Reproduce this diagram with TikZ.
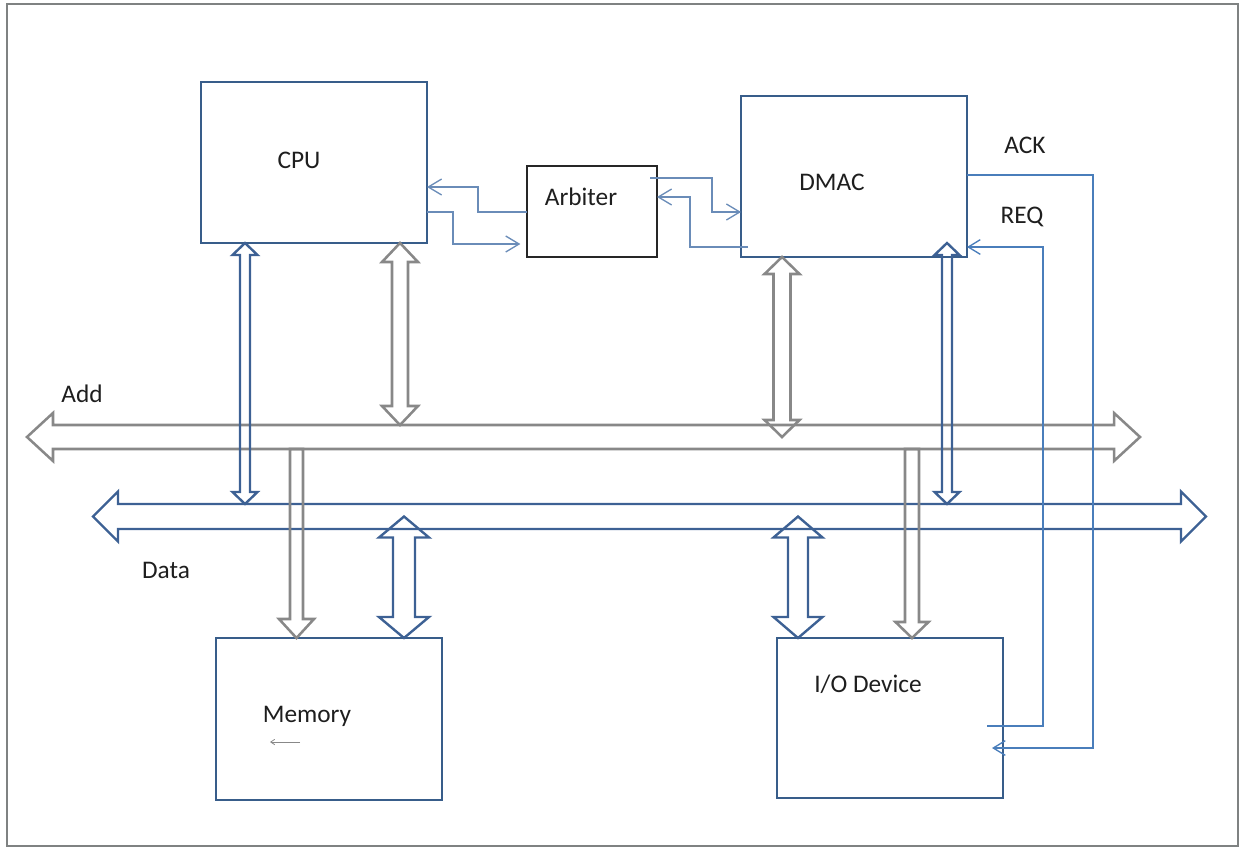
\documentclass[tikz,border=0pt]{standalone}
\usepackage{fontspec}
\setmainfont{Carlito}
\usetikzlibrary{calc,arrows.meta}
\definecolor{boxblue}{HTML}{385D8A}
\definecolor{arrblue}{HTML}{3D6194}
\definecolor{arrgray}{HTML}{888888}
\definecolor{connblue}{HTML}{4A7EBB}
\definecolor{arbconn}{HTML}{6A8CB8}
\definecolor{framegray}{HTML}{7F8282}
\definecolor{txt}{HTML}{1E1E1E}
\def\pxu{0.75pt}
% vertical double block arrow: style, top tip, bottom tip, shaft half, head half, head length (px)
\newcommand\vdouble[6]{\draw[#1] let \p1=#2, \p2=#3 in
  (\x1,\y1) -- (\x1+#5*\pxu,\y1-#6*\pxu) -- (\x1+#4*\pxu,\y1-#6*\pxu) -- (\x1+#4*\pxu,\y2+#6*\pxu)
  -- (\x1+#5*\pxu,\y2+#6*\pxu) -- (\x1,\y2) -- (\x1-#5*\pxu,\y2+#6*\pxu) -- (\x1-#4*\pxu,\y2+#6*\pxu)
  -- (\x1-#4*\pxu,\y1-#6*\pxu) -- (\x1-#5*\pxu,\y1-#6*\pxu) -- cycle;}
% horizontal double block arrow: style, left tip, right tip, shaft half, head half, head length
\newcommand\hdouble[6]{\draw[#1] let \p1=#2, \p2=#3 in
  (\x1,\y1) -- (\x1+#6*\pxu,\y1+#5*\pxu) -- (\x1+#6*\pxu,\y1+#4*\pxu) -- (\x2-#6*\pxu,\y1+#4*\pxu)
  -- (\x2-#6*\pxu,\y1+#5*\pxu) -- (\x2,\y1) -- (\x2-#6*\pxu,\y1-#5*\pxu) -- (\x2-#6*\pxu,\y1-#4*\pxu)
  -- (\x1+#6*\pxu,\y1-#4*\pxu) -- (\x1+#6*\pxu,\y1-#5*\pxu) -- cycle;}
% vertical single block arrow pointing down: style, flat top centre, tip, shaft half, head half, head length
\newcommand\vsingle[6]{\draw[#1] let \p1=#2, \p2=#3 in
  (\x1-#4*\pxu,\y1) -- (\x1-#4*\pxu,\y2+#6*\pxu) -- (\x1-#5*\pxu,\y2+#6*\pxu) -- (\x1,\y2)
  -- (\x1+#5*\pxu,\y2+#6*\pxu) -- (\x1+#4*\pxu,\y2+#6*\pxu) -- (\x1+#4*\pxu,\y1) -- cycle;}
\tikzset{
  box/.style={draw=boxblue, line width=1.9pt, inner sep=0pt, outer sep=0pt},
  lbl/.style={text=txt, font=\fontsize{19}{22}\selectfont, anchor=base, inner sep=0pt},
  grayarr/.style={draw=arrgray, line width=1.9pt, line join=miter},
  bluearr/.style={draw=arrblue, line width=1.8pt, line join=miter},
  arbline/.style={draw=arbconn, line width=1pt, -{Straight Barb[length=10pt,width=12pt]}},
  sigline/.style={draw=connblue, line width=1pt, -{Straight Barb[length=9pt,width=11pt]}},
}
\begin{document}
\begin{tikzpicture}[x=0.75pt,y=-0.75pt]
\useasboundingbox (0,0) rectangle (1244,849);
\draw[framegray, line width=1.5pt] (7,4) rectangle (1238,846);

% boxes
\node[box, minimum width=169.5pt, minimum height=120.75pt] (cpu) at (314,162.5) {};
\node[draw=black!85, line width=1.1pt, inner sep=0pt, outer sep=0pt, minimum width=97.5pt, minimum height=68.25pt] (arb) at (592,211.5) {};
\node[box, minimum width=169.5pt, minimum height=120.75pt] (dmac) at (854,176.5) {};
\node[box, minimum width=169.5pt, minimum height=121.5pt] (mem) at (329,719) {};
\node[box, minimum width=169.5pt, minimum height=120pt] (io) at (890,718) {};

% labels
\node[lbl] (cput) at (299,168) {CPU};
\node[lbl] (arbt) at (581,205) {Arbiter};
\node[lbl] (dmact) at (832,190) {DMAC};
\node[lbl] (memt) at (307,722) {Memory};
\node[lbl] (iot) at (868,692) {I/O Device};
\node[lbl] (ackt) at (1025,153) {ACK};
\node[lbl] (reqt) at (1022,223) {REQ};
\node[lbl] (addt) at (82,402) {Add};
\node[lbl] (datat) at (166,578) {Data};

% buses
\coordinate (addL) at (27,437);
\coordinate (addR) at (1140,437);
\coordinate (datL) at (93,516.5);
\coordinate (datR) at (1206,516.5);
\coordinate (addtop) at (0,425);
\coordinate (addbot) at (0,449);
\coordinate (dattop) at (0,504);
\coordinate (datbot) at (0,529);
\hdouble{grayarr}{(addL)}{(addR)}{12}{24}{26}
\hdouble{bluearr}{(datL)}{(datR)}{12.5}{25}{25}

% vertical block arrows
\vdouble{bluearr}{(cpu.south -| 245,0)}{(245,0 |- dattop)}{5}{12.5}{12}
\vdouble{grayarr}{(cpu.south -| 400,0)}{(400,0 |- addtop)}{8}{18}{19}
\vdouble{grayarr}{(dmac.south -| 782,0)}{(782,0 |- addL)}{8.5}{17.5}{17}
\vdouble{bluearr}{($(dmac.south -| 947,0)+(0,-14)$)}{(947,0 |- dattop)}{5}{12.5}{12}
\vsingle{grayarr}{(296.5,0 |- addbot)}{(mem.north -| 296.5,0)}{6.5}{17.5}{19}
\vdouble{bluearr}{(404,0 |- datL)}{(mem.north -| 404,0)}{11}{25}{21}
\vdouble{bluearr}{(798,0 |- datL)}{(io.north -| 798,0)}{10}{24.5}{21}
\vsingle{grayarr}{(912,0 |- addbot)}{(io.north -| 912,0)}{7}{16.5}{16}

% arbiter connections
\draw[arbline] (arb.west |- 0,212) -| (478,187) -- (cpu.east |- 0,187);
\draw[arbline, shorten >=5pt] (cpu.east |- 0,212) -| (453,244) -- (arb.west |- 0,244);
\draw[arbline] ($(arb.east |- 0,178)+(-7,0)$) -| (712,212) -- (dmac.west |- 0,212);
\draw[arbline] ($(dmac.west |- 0,247)+(7,0)$) -| (690,197) -- (arb.east |- 0,197);

% ACK / REQ
\draw[sigline] (dmac.east |- 0,175) -| (1093,748) -- ($(io.east |- 0,748)+(-11,0)$);
\draw[sigline] ($(io.east |- 0,726)+(-16,0)$) -| (1043,247) -- (dmac.east |- 0,247);

% small arrow in memory
\draw[draw=arrgray, line width=0.6pt, -{Straight Barb[length=3pt,width=4pt]}] ($(mem.center)+(-29,23)$) -- ($(mem.center)+(-59,23)$);
\end{tikzpicture}
\end{document}
